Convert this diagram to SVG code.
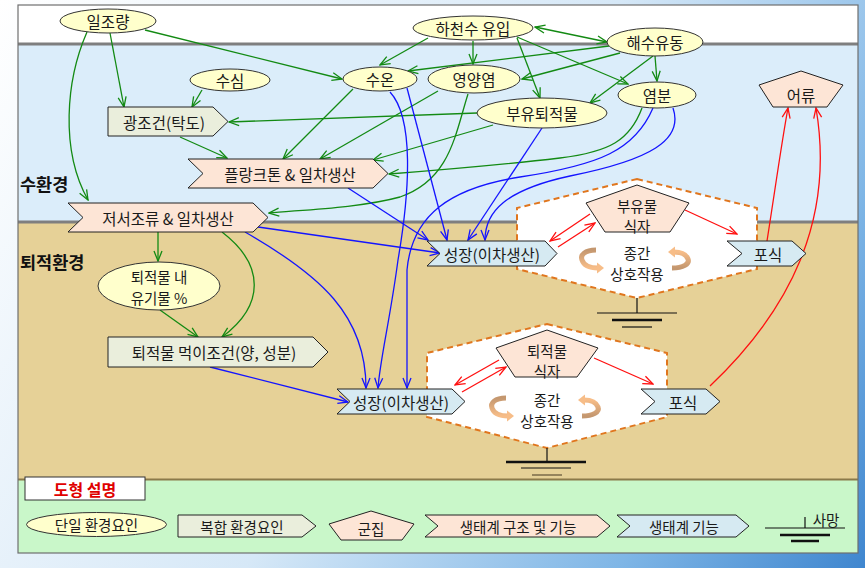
<svg xmlns="http://www.w3.org/2000/svg" width="865" height="568" viewBox="0 0 865 568">
<defs>
<style>
.t{font-family:"Noto Sans CJK KR","Noto Sans",sans-serif;font-size:15.5px;fill:#1a1a1a;text-anchor:middle;dominant-baseline:central}
.t2{font-size:14.5px}
.lg{font-size:14.5px}
.lab{font-family:"Noto Sans CJK KR","Noto Sans",sans-serif;font-size:17.5px;font-weight:bold;fill:#111}
.ell{fill:#FFFFCC;stroke:#333;stroke-width:1}
.cmp{fill:#EAEEDC;stroke:#222;stroke-width:1}
.str{fill:#FDE5D6;stroke:#222;stroke-width:1}
.fun{fill:#D6EAF2;stroke:#222;stroke-width:1}
.grp{fill:#FDE5D6;stroke:#222;stroke-width:1}
.hex{fill:#FFFFFF;stroke:#E0761E;stroke-width:2;stroke-dasharray:6 4}
.g{fill:none;stroke:#138A13;stroke-width:1.3;marker-end:url(#ag)}
.b{fill:none;stroke:#1414FF;stroke-width:1.3;marker-end:url(#ab)}
.r{fill:none;stroke:#FF1010;stroke-width:1.3;marker-end:url(#ar)}
.gnd{stroke:#111;fill:none}
</style>
<marker id="ag" viewBox="0 0 12 10" refX="11" refY="5" markerWidth="12" markerHeight="10" markerUnits="userSpaceOnUse" orient="auto-start-reverse"><path d="M1,1 L11,5 L1,9" fill="none" stroke="#138A13" stroke-width="1.3"/></marker>
<marker id="ab" viewBox="0 0 12 10" refX="11" refY="5" markerWidth="12" markerHeight="10" markerUnits="userSpaceOnUse" orient="auto-start-reverse"><path d="M1,1 L11,5 L1,9" fill="none" stroke="#1414FF" stroke-width="1.3"/></marker>
<marker id="ar" viewBox="0 0 12 10" refX="11" refY="5" markerWidth="12" markerHeight="10" markerUnits="userSpaceOnUse" orient="auto-start-reverse"><path d="M1,1 L11,5 L1,9" fill="none" stroke="#FF1010" stroke-width="1.3"/></marker>
<linearGradient id="bg" gradientUnits="userSpaceOnUse" x1="0" y1="0" x2="865" y2="568">
<stop offset="0" stop-color="#ffffff"/><stop offset="0.5" stop-color="#d6e8f7"/><stop offset="0.8" stop-color="#7fb6e6"/><stop offset="1" stop-color="#3f86cf"/>
</linearGradient>
<linearGradient id="arcL" x1="0" y1="0" x2="0" y2="1"><stop offset="0" stop-color="#C4976F"/><stop offset="1" stop-color="#F7BD88"/></linearGradient>
<linearGradient id="arcR" x1="0" y1="0" x2="0" y2="1"><stop offset="0" stop-color="#F7BD88"/><stop offset="1" stop-color="#C4976F"/></linearGradient>
<g id="arcs">
<path d="M596,250 C585,250 580,255 582,260 C584,266 590,268 598,268" fill="none" stroke="url(#arcL)" stroke-width="5"/>
<polygon points="597,262.5 604,268 597,273.5" fill="#F7BD88"/>
<path d="M672,268 C683,268 690,264 688,259 C686,254 681,252 674,252" fill="none" stroke="url(#arcR)" stroke-width="5"/>
<polygon points="675,246.5 668,252 675,257.5" fill="#F7BD88"/>
</g>
</defs>

<!-- background & panel -->
<rect x="0" y="0" width="865" height="568" fill="url(#bg)"/>
<rect x="18" y="5" width="840" height="38" fill="#FFFFFF"/>
<rect x="18" y="45" width="840" height="176" fill="#DBEDFA"/>
<rect x="18" y="223" width="840" height="256" fill="#E6D197"/>
<rect x="18" y="480" width="840" height="73" fill="#C9F7C9"/>
<line x1="18" y1="44" x2="858" y2="44" stroke="#7f7f7f" stroke-width="3"/>
<line x1="18" y1="222" x2="858" y2="222" stroke="#7f7f7f" stroke-width="3"/>
<line x1="18" y1="479.5" x2="858" y2="479.5" stroke="#8B7A4A" stroke-width="2"/>
<rect x="18" y="5" width="840" height="548" fill="none" stroke="#6f6f6f" stroke-width="1.2"/>

<text class="lab" x="20" y="191">수환경</text>
<text class="lab" x="20" y="269">퇴적환경</text>

<!-- hexagons (community boxes) -->
<g id="hex-upper">
<polygon class="hex" points="637,179 757,208 757,269 637,298 517,269 517,208"/>
<text class="t t2" x="637" y="252">종간</text>
<text class="t t2" x="637" y="273">상호작용</text>
<use href="#arcs"/>
<line class="gnd" x1="637" y1="298" x2="637" y2="313" stroke-width="1.2"/>
<line class="gnd" x1="597" y1="313" x2="677" y2="313" stroke-width="1.2"/>
<line class="gnd" x1="612" y1="320" x2="662" y2="320" stroke-width="2.5"/>
<line class="gnd" x1="622" y1="327" x2="652" y2="327" stroke-width="1.2"/>
</g>
<g id="hex-lower">
<polygon class="hex" points="547,324 667,353 667,417 547,448 427,417 427,353"/>
<text class="t t2" x="547" y="399">종간</text>
<text class="t t2" x="547" y="420">상호작용</text>
<use href="#arcs" transform="translate(-90,148)"/>
<line class="gnd" x1="547" y1="448" x2="547" y2="462" stroke-width="1.2"/>
<line class="gnd" x1="506" y1="462" x2="586" y2="462" stroke-width="2.5"/>
<line class="gnd" x1="521" y1="468" x2="571" y2="468" stroke-width="1.2"/>
<line x1="532" y1="475" x2="562" y2="475" stroke="#7a6a48" stroke-width="1.5"/>
</g>

<!-- connectors -->
<g id="connectors">
<path class="g" d="M87,32 C66,80 60,150 88,200"/>
<path class="g" d="M110,33 L124,107"/>
<path class="g" d="M145,30 L342,79"/>
<path class="g" d="M202,90 L192,107"/>
<path class="g" d="M180,137 L227,158"/>
<path class="g" d="M353,89 L283,159"/>
<path class="g" d="M438,91 L320,159"/>
<path class="g" d="M477,113 L229,122"/>
<path class="g" d="M493,125 L373,160"/>
<path class="g" d="M642,108 C630,140 610,152 560,158 C500,165 440,170 389,174"/>
<path class="g" d="M468,94 C455,135 450,180 400,197 C360,208 300,210 269,213"/>
<path class="g" d="M428,38 L380,65"/>
<path class="g" d="M473,41 L473,64"/>
<path class="g" d="M517,38 L540,98"/>
<path class="g" d="M517,37 L628,84"/>
<path class="g" d="M607,42 L535,27" marker-start="url(#ag)"/>
<path class="g" d="M609,46 L408,71"/>
<path class="g" d="M620,53 L522,79"/>
<path class="g" d="M653,56 L590,103"/>
<path class="g" d="M655,56 L657,81"/>
<path class="g" d="M158,232 L158,261"/>
<path class="g" d="M222,232 C265,265 265,305 222,337"/>
<path class="g" d="M160,310 L198,337"/>

<path class="b" d="M348,188 L428,240"/>
<path class="b" d="M258,227 L440,253"/>
<path class="b" d="M407,88 L447,240"/>
<path class="b" d="M542,128 L468,240"/>
<path class="b" d="M673,108 C684,140 650,160 570,176 C505,190 485,212 485,240"/>
<path class="b" d="M653,108 C635,150 600,165 520,177 C450,188 412,215 407,270 L407,388"/>
<path class="b" d="M390,92 C414,118 410,190 398,260 C390,320 380,360 378,388"/>
<path class="b" d="M245,232 C320,275 366,315 366,388"/>
<path class="b" d="M210,367 L348,402"/>

<path class="r" d="M558,247 L595,223"/>
<path class="r" d="M590,214 L550,241"/>
<path class="r" d="M685,210 L737,234"/>
<path class="r" d="M767,241 C775,190 782,140 788,108"/>
<path class="r" d="M710,386 C790,310 835,220 816,108"/>
<path class="r" d="M499,360 L455,385"/>
<path class="r" d="M462,392 L506,367"/>
<path class="r" d="M594,358 L653,384"/>
</g>

<!-- single factors -->
<g id="n-iljoryang"><ellipse class="ell" cx="108" cy="21" rx="48" ry="12"/><text class="t" x="108" y="21">일조량</text></g>
<g id="n-hacheonsu"><ellipse class="ell" cx="473" cy="28" rx="60" ry="12"/><text class="t" x="473" y="28">하천수 유입</text></g>
<g id="n-haesuyudong"><ellipse class="ell" cx="655" cy="42" rx="48" ry="14"/><text class="t" x="655" y="42">해수유동</text></g>
<g id="n-susim"><ellipse class="ell" cx="230" cy="80" rx="40" ry="11"/><text class="t" x="230" y="80">수심</text></g>
<g id="n-suon"><ellipse class="ell" cx="380" cy="79" rx="37" ry="12"/><text class="t" x="380" y="79">수온</text></g>
<g id="n-yeongyangyeom"><ellipse class="ell" cx="474" cy="79" rx="46" ry="14"/><text class="t" x="474" y="79">영양염</text></g>
<g id="n-yeombun"><ellipse class="ell" cx="657" cy="95" rx="39" ry="13"/><text class="t" x="657" y="95">염분</text></g>
<g id="n-buyutoejeok"><ellipse class="ell" cx="542" cy="113" rx="65" ry="15"/><text class="t" x="542" y="113">부유퇴적물</text></g>
<g id="n-yugimul"><ellipse class="ell" cx="159" cy="286" rx="61" ry="24"/><text class="t t2" x="159" y="276">퇴적물 내</text><text class="t t2" x="159" y="297">유기물 %</text></g>

<!-- complex factors -->
<g id="n-gwangjogeon"><polygon class="cmp" points="108,107 213,107 228,121.5 213,136 108,136"/><text class="t" x="164" y="121.5">광조건(탁도)</text></g>
<g id="n-meogijogeon"><polygon class="cmp" points="108,337 313,337 328,352 313,367 108,367"/><text class="t" x="214" y="352">퇴적물 먹이조건(양, 성분)</text></g>

<!-- structure & function -->
<g id="n-plankton"><polygon class="str" points="188,159 373,159 388,173.5 373,188 188,188 203,173.5"/><text class="t" x="290" y="173.5">플랑크톤 &amp; 일차생산</text></g>
<g id="n-jeoseo"><polygon class="str" points="68,203 253,203 268,217.5 253,232 68,232 83,217.5"/><text class="t" x="168" y="217.5">저서조류 &amp; 일차생산</text></g>

<!-- functions -->
<g id="n-seongjang-up"><polygon class="fun" points="427,241 545,241 557,253.5 545,266 427,266 440,253.5"/><text class="t" x="492" y="253.5">성장(이차생산)</text></g>
<g id="n-seongjang-low"><polygon class="fun" points="337,389 452,389 465,401.5 452,414 337,414 350,401.5"/><text class="t" x="401" y="401.5">성장(이차생산)</text></g>
<g id="n-posik-up"><polygon class="fun" points="727,241 792,241 806,253.5 792,266 727,266 742,253.5"/><text class="t" x="768" y="253.5">포식</text></g>
<g id="n-posik-low"><polygon class="fun" points="641,389 706,389 720,401.5 706,414 641,414 655,401.5"/><text class="t" x="683" y="401.5">포식</text></g>

<!-- communities -->
<g id="n-buyumul-sikja"><polygon class="grp" points="637,185 689,203 670,232 605,232 586,203"/><text class="t t2" x="637" y="205">부유물</text><text class="t t2" x="637" y="225">식자</text></g>
<g id="n-toejeokmul-sikja"><polygon class="grp" points="547,330 598,348 577,377 515,377 496,348"/><text class="t t2" x="547" y="350">퇴적물</text><text class="t t2" x="547" y="370">식자</text></g>
<g id="n-eoryu"><polygon class="grp" points="801,71 843,85 827,107 773,107 759,85"/><text class="t" x="801" y="95">어류</text></g>

<!-- legend -->
<g id="legend">
<rect x="25" y="477" width="120" height="23" fill="#FFFFFF" stroke="#333" stroke-width="1"/>
<text class="t" x="85" y="489" style="fill:#E00000;font-weight:bold;font-size:16px">도형 설명</text>
<ellipse class="ell" cx="96.5" cy="524.5" rx="70" ry="12"/><text class="t lg" x="96.5" y="524.5">단일 환경요인</text>
<polygon class="cmp" points="178,515 302,515 316,526 302,537 178,537"/><text class="t lg" x="242" y="526">복합 환경요인</text>
<polygon class="grp" points="371,511 414,524 402,540 341,540 329,524"/><text class="t lg" x="371" y="528">군집</text>
<polygon class="str" points="425,515 597,515 610,526 597,537 425,537 438,526"/><text class="t lg" x="518" y="526">생태계 구조 및 기능</text>
<polygon class="fun" points="617,515 736,515 749,526 736,537 617,537 630,526"/><text class="t lg" x="684" y="526">생태계 기능</text>
<line x1="765" y1="528" x2="845" y2="528" stroke="#111" stroke-width="1.2"/>
<line x1="805" y1="517" x2="805" y2="528" stroke="#111" stroke-width="1.2"/>
<text class="t lg" x="826" y="519">사망</text>
<line x1="780" y1="535" x2="830" y2="535" stroke="#111" stroke-width="2.5"/>
<line x1="791" y1="541" x2="819" y2="541" stroke="#111" stroke-width="2.5"/>
</g>
</svg>
